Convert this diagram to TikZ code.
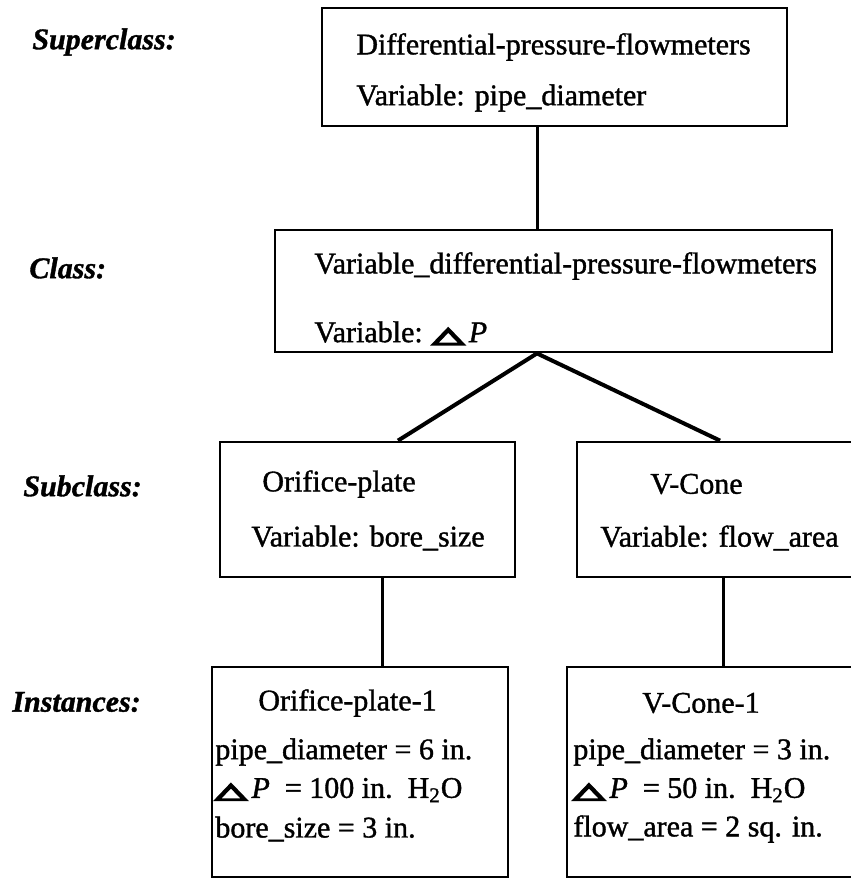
\documentclass[tikz,border=0pt]{standalone}
\usepackage{fontspec}
\setmainfont{Liberation Serif}[FakeBold=1.2]
\newfontfamily\symfont{DejaVu Sans}[FakeBold=8]
\usepackage{graphicx}
\usetikzlibrary{positioning, fit, calc}

\newcommand{\dP}{{\symfont\scalebox{1.35}[0.7]{△}}\,\textit{P}}

\begin{document}
\begin{tikzpicture}[x=0.5pt, y=-0.5pt,
	box/.style={draw, line width=1.4pt, inner sep=0pt},
	link/.style={line width=1.5pt},
	txt/.style={anchor=west, inner sep=0pt, font=\fontsize{15}{18}\selectfont},
	lbl/.style={anchor=west, inner sep=0pt, font=\fontsize{15}{18}\selectfont\bfseries\itshape}]
	\clip (0,0) rectangle (851,879);
	% level labels
	\node[lbl] (lblsuper) at (32,42) {Superclass:};
	\node[lbl] (lblclass) at (29,268) {Class:};
	\node[lbl] (lblsub) at (23,486) {Subclass:};
	\node[lbl] (lblinst) at (12,702) {Instances:};
	% boxes
	\node[box, fit={(322,8) (787,126)}] (super) {};
	\node[box, fit={(275,230) (832,352)}] (class) {};
	\node[box, fit={(220,442) (515,577)}] (orifice) {};
	\node[box, fit={(577,442) (880,577)}] (vcone) {};
	\node[box, fit={(212,667) (508,877)}] (orifice1) {};
	\node[box, fit={(567,667) (880,877)}] (vcone1) {};
	% texts
	\node[txt] (supername) at (356,47) {Differential-pressure-flowmeters};
	\node[txt] (supervar) at (356,98) {Variable: pipe\_diameter};
	\node[txt] (classname) at (314,266) {Variable\_differential-pressure-flowmeters};
	\node[txt] (classvar) at (314,333) {Variable: \dP};
	\node[txt] (orificename) at (262,484) {Orifice-plate};
	\node[txt] (orificevar) at (251,538) {Variable: bore\_size};
	\node[txt] (vconename) at (650,484) {V-Cone};
	\node[txt] (vconevar) at (600,538) {Variable: flow\_area};
	\node[txt] (orificeA) at (258,703) {Orifice-plate-1};
	\node[txt] (orificeB) at (215,752) {pipe\_diameter = 6 in.};
	\node[txt] (orificeC) at (215,790) {\dP\enspace= 100 in.\ \ H\textsubscript{2}O};
	\node[txt] (orificeD) at (215,829) {bore\_size = 3 in.};
	\node[txt] (vconeA) at (642,703) {V-Cone-1};
	\node[txt] (vconeB) at (573,752) {pipe\_diameter = 3 in.};
	\node[txt] (vconeC) at (573,790) {\dP\enspace= 50 in.\ \ H\textsubscript{2}O};
	\node[txt] (vconeD) at (573,829) {flow\_area = 2 sq. in.};
	% connectors
	\coordinate (spine) at (537,0);
	\coordinate (lfoot) at (398,0);
	\coordinate (rfoot) at (720,0);
	\coordinate (lstem) at (382,0);
	\coordinate (rstem) at (723,0);
	\draw[link] (super.south -| spine) -- (class.north -| spine);
	\draw[link, line width=2pt] (class.south -| spine) -- (orifice.north -| lfoot);
	\draw[link, line width=2pt] (class.south -| spine) -- (vcone.north -| rfoot);
	\draw[link] (orifice.south -| lstem) -- (orifice1.north -| lstem);
	\draw[link] (vcone.south -| rstem) -- (vcone1.north -| rstem);
\end{tikzpicture}
\end{document}
